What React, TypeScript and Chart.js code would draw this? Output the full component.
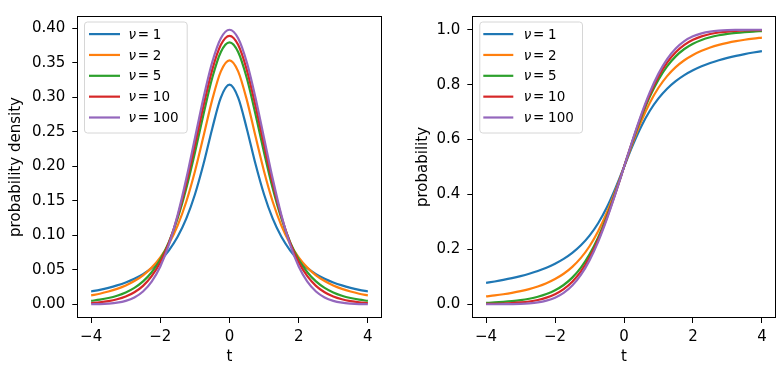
import React, { useEffect, useRef } from 'react';
import { Chart, registerables } from 'chart.js';
Chart.register(...registerables);

// ---------- data ----------
const T = [-4, -3.75, -3.5, -3.25, -3, -2.75, -2.5, -2.25, -2, -1.75, -1.5, -1.25, -1, -0.75, -0.5, -0.25, 0,
  0.25, 0.5, 0.75, 1, 1.25, 1.5, 1.75, 2, 2.25, 2.5, 2.75, 3, 3.25, 3.5, 3.75, 4];

const NU_LABELS = ['1', '2', '5', '10', '100'];
const COLORS = ['#1f77b4', '#ff7f0e', '#2ca02c', '#d62728', '#9467bd'];

const PDF_NU1 = [0.0187, 0.0211, 0.0240, 0.0275, 0.0318, 0.0372, 0.0439, 0.0525, 0.0637, 0.0784, 0.0979, 0.1242, 0.1592, 0.2037, 0.2546, 0.2996, 0.3183, 0.2996, 0.2546, 0.2037, 0.1592, 0.1242, 0.0979, 0.0784, 0.0637, 0.0525, 0.0439, 0.0372, 0.0318, 0.0275, 0.0240, 0.0211, 0.0187];
const PDF_NU2 = [0.0131, 0.0155, 0.0186, 0.0225, 0.0274, 0.0338, 0.0422, 0.0533, 0.0680, 0.0878, 0.1141, 0.1487, 0.1925, 0.2438, 0.2963, 0.3376, 0.3536, 0.3376, 0.2963, 0.2438, 0.1925, 0.1487, 0.1141, 0.0878, 0.0680, 0.0533, 0.0422, 0.0338, 0.0274, 0.0225, 0.0186, 0.0155, 0.0131];
const PDF_NU5 = [0.0051, 0.0068, 0.0092, 0.0126, 0.0173, 0.0239, 0.0333, 0.0466, 0.0651, 0.0905, 0.1245, 0.1679, 0.2197, 0.2757, 0.3279, 0.3657, 0.3796, 0.3657, 0.3279, 0.2757, 0.2197, 0.1679, 0.1245, 0.0905, 0.0651, 0.0466, 0.0333, 0.0239, 0.0173, 0.0126, 0.0092, 0.0068, 0.0051];
const PDF_NU10 = [0.0020, 0.0031, 0.0048, 0.0074, 0.0114, 0.0176, 0.0269, 0.0409, 0.0611, 0.0895, 0.1274, 0.1751, 0.2304, 0.2880, 0.3397, 0.3760, 0.3891, 0.3760, 0.3397, 0.2880, 0.2304, 0.1751, 0.1274, 0.0895, 0.0611, 0.0409, 0.0269, 0.0176, 0.0114, 0.0074, 0.0048, 0.0031, 0.0020];
const PDF_NU100 = [0.0002, 0.0005, 0.0012, 0.0025, 0.0051, 0.0100, 0.0186, 0.0329, 0.0549, 0.0868, 0.1294, 0.1819, 0.2408, 0.2998, 0.3508, 0.3856, 0.3979, 0.3856, 0.3508, 0.2998, 0.2408, 0.1819, 0.1294, 0.0868, 0.0549, 0.0329, 0.0186, 0.0100, 0.0051, 0.0025, 0.0012, 0.0005, 0.0002];

const CDF_NU1 = [0.0780, 0.0830, 0.0886, 0.0950, 0.1024, 0.1110, 0.1211, 0.1331, 0.1476, 0.1652, 0.1872, 0.2148, 0.2500, 0.2952, 0.3524, 0.4220, 0.5000, 0.5780, 0.6476, 0.7048, 0.7500, 0.7852, 0.8128, 0.8348, 0.8524, 0.8669, 0.8789, 0.8890, 0.8976, 0.9050, 0.9114, 0.9170, 0.9220];
const CDF_NU2 = [0.0286, 0.0322, 0.0364, 0.0415, 0.0477, 0.0553, 0.0648, 0.0767, 0.0918, 0.1111, 0.1362, 0.1689, 0.2113, 0.2657, 0.3333, 0.4130, 0.5000, 0.5870, 0.6667, 0.7343, 0.7887, 0.8311, 0.8638, 0.8889, 0.9082, 0.9233, 0.9352, 0.9447, 0.9523, 0.9585, 0.9636, 0.9678, 0.9714];
const CDF_NU5 = [0.0052, 0.0066, 0.0087, 0.0114, 0.0150, 0.0202, 0.0272, 0.0371, 0.0510, 0.0702, 0.0970, 0.1332, 0.1816, 0.2435, 0.3191, 0.4063, 0.5000, 0.5937, 0.6809, 0.7565, 0.8184, 0.8668, 0.9030, 0.9298, 0.9490, 0.9629, 0.9728, 0.9798, 0.9850, 0.9886, 0.9913, 0.9934, 0.9948];
const CDF_NU10 = [0.0013, 0.0019, 0.0029, 0.0044, 0.0067, 0.0102, 0.0157, 0.0241, 0.0367, 0.0553, 0.0822, 0.1199, 0.1704, 0.2353, 0.3140, 0.4038, 0.5000, 0.5962, 0.6860, 0.7647, 0.8296, 0.8801, 0.9178, 0.9447, 0.9633, 0.9759, 0.9843, 0.9898, 0.9933, 0.9956, 0.9971, 0.9981, 0.9987];
const CDF_NU100 = [0.0001, 0.0001, 0.0003, 0.0008, 0.0017, 0.0036, 0.0070, 0.0133, 0.0241, 0.0416, 0.0684, 0.1071, 0.1599, 0.2275, 0.3090, 0.4016, 0.5000, 0.5984, 0.6910, 0.7725, 0.8401, 0.8929, 0.9316, 0.9584, 0.9759, 0.9867, 0.9930, 0.9964, 0.9983, 0.9992, 0.9997, 0.9999, 0.9999];

const X_TICKS = [-4, -2, 0, 2, 4];
const PDF_TICKS = [0, 0.05, 0.1, 0.15, 0.2, 0.25, 0.3, 0.35, 0.4];
const CDF_TICKS = [0, 0.2, 0.4, 0.6, 0.8, 1.0];

const PDF_SERIES = [PDF_NU1, PDF_NU2, PDF_NU5, PDF_NU10, PDF_NU100];
const CDF_SERIES = [CDF_NU1, CDF_NU2, CDF_NU5, CDF_NU10, CDF_NU100];

const FONT = '"DejaVu Sans", sans-serif';

function fmtX(v: number) {
  return v < 0 ? '\u2212' + Math.abs(v) : String(v);
}

const framePlugin = {
  id: 'frameLegend',
  afterDatasetsDraw(chart: any, _args: any, opts: any) {
    const ctx = chart.ctx;
    const a = chart.chartArea;
    ctx.save();
    ctx.strokeStyle = '#000';
    ctx.lineWidth = 1;
    const l = Math.round(a.left) + 0.5, r = Math.round(a.right) - 0.5;
    const t = Math.round(a.top) + 0.5, b = Math.round(a.bottom) - 0.5;
    ctx.strokeRect(l, t, r - l, b - t);

    // legend
    const bx = a.left + opts.dx;
    const by = a.top + 5.5;
    const bw = 102.7, bh = 111;
    ctx.beginPath();
    (ctx as any).roundRect(bx + 0.5, by + 0.5, bw, bh, 3);
    ctx.fillStyle = 'rgba(255,255,255,0.8)';
    ctx.fill();
    ctx.strokeStyle = '#d6d6d6';
    ctx.stroke();
    NU_LABELS.forEach((nu, i) => {
      const y = by + 12.6 + i * 20.85;
      ctx.beginPath();
      ctx.strokeStyle = COLORS[i];
      ctx.lineWidth = 2.2;
      ctx.lineCap = 'butt';
      ctx.moveTo(bx + opts.h0, y);
      ctx.lineTo(bx + opts.h1, y);
      ctx.stroke();
      ctx.fillStyle = '#000';
      ctx.textBaseline = 'alphabetic';
      ctx.textAlign = 'left';
      ctx.font = 'italic 13.5px ' + FONT;
      const tx = bx + opts.tx;
      ctx.fillText('\u03bd', tx, y + 4.6);
      ctx.font = '13.5px ' + FONT;
      ctx.fillText('=', tx + 9.3, y + 4.6);
      ctx.fillText(nu, tx + 24.3, y + 4.6);
    });
    ctx.restore();
  },
};

function makeConfig(series: number[][], yMin: number, yMax: number, yTicks: number[], dec: number,
  yTitle: string, yWidth: number, titlePad: number, padRight: number, legend: any) {
  return {
    type: 'line' as const,
    data: {
      datasets: series.map((arr, i) => ({
        label: '\u03bd = ' + NU_LABELS[i],
        data: T.map((t, j) => ({ x: t, y: arr[j] })),
        borderColor: COLORS[i],
        backgroundColor: COLORS[i],
        borderWidth: 2.2,
        pointRadius: 0,
        fill: false,
        cubicInterpolationMode: 'monotone' as const,
        order: series.length - 1 - i,
      })),
    },
    options: {
      responsive: false,
      animation: false as const,
      events: [],
      layout: { padding: { left: 0, top: 10, right: padRight, bottom: 0 } },
      plugins: { legend: { display: false }, tooltip: { enabled: false }, frameLegend: legend },
      scales: {
        x: {
          type: 'linear' as const,
          min: -4.4,
          max: 4.4,
          afterBuildTicks: (s: any) => { s.ticks = X_TICKS.map((v) => ({ value: v })); },
          afterFit: (s: any) => { s.height = 55; },
          ticks: {
            autoSkip: false, maxRotation: 0, padding: 5.5, color: '#000',
            font: { family: FONT, size: 15 },
            callback: (v: any) => fmtX(Number(v)),
          },
          grid: { drawOnChartArea: false, drawTicks: true, tickLength: 5, color: '#000', lineWidth: 1 },
          border: { display: false },
          title: { display: true, text: 't', color: '#000', font: { family: FONT, size: 15 }, padding: { top: 0, bottom: 7 } },
        },
        y: {
          type: 'linear' as const,
          min: yMin,
          max: yMax,
          afterBuildTicks: (s: any) => { s.ticks = yTicks.map((v) => ({ value: v })); },
          afterFit: (s: any) => { s.width = yWidth; },
          ticks: {
            autoSkip: false, padding: 7, color: '#000',
            font: { family: FONT, size: 15 },
            callback: (v: any) => Number(v).toFixed(dec),
          },
          grid: { drawOnChartArea: false, drawTicks: true, tickLength: 5, color: '#000', lineWidth: 1 },
          border: { display: false },
          title: { display: true, text: yTitle, color: '#000', font: { family: FONT, size: 15 }, padding: { top: titlePad, bottom: 0 } },
        },
      },
    },
    plugins: [framePlugin],
  };
}

export default function App() {
  const leftRef = useRef<HTMLCanvasElement>(null);
  const rightRef = useRef<HTMLCanvasElement>(null);

  useEffect(() => {
    const c1 = new Chart(leftRef.current!, makeConfig(PDF_SERIES, -0.0197, 0.4178, PDF_TICKS, 2,
      'probability density', 77.3, 7.5, 10.3, { dx: 6.7, h0: 5, h1: 36, tx: 44.5 }) as any);
    const c2 = new Chart(rightRef.current!, makeConfig(CDF_SERIES, -0.05, 1.05, CDF_TICKS, 1,
      'probability', 80.3, 21.8, 8.3, { dx: 7, h0: 4, h1: 34, tx: 44.5 }) as any);
    return () => { c1.destroy(); c2.destroy(); };
  }, []);

  return (
    <div style={{ position: 'absolute', left: 0, top: 0, width: 784, height: 373, background: '#fff' }}>
      <canvas ref={leftRef} width={392} height={373} style={{ position: 'absolute', left: 0, top: 0 }} />
      <canvas ref={rightRef} width={392} height={373} style={{ position: 'absolute', left: 392, top: 0 }} />
    </div>
  );
}
